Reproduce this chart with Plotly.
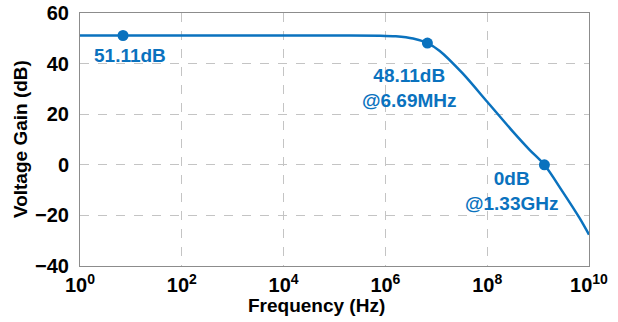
import plotly.graph_objects as go

# Open-loop voltage gain of the amplifier
freq_hz = [1, 1e5, 8e5, 1.6e6, 3.5e6, 6.69e6, 1.17e7, 3.3e7, 1e8, 3.2e8, 6.8e8, 1.33e9, 3.0e9, 6.5e9, 1e10]
gain_db = [51.11, 51.11, 51.05, 50.8, 49.9, 48.11, 45.0, 36.1, 24.9, 13.1, 5.9, 0.0, -10.5, -21.0, -27.6]

# Highlighted operating points: DC gain, -3 dB corner, unity-gain crossing
mark_freq = [7, 6.69e6, 1.33e9]
mark_gain = [51.11, 48.11, 0.0]
mark_text = ["51.11dB", "48.11dB<br>@6.69MHz", "0dB<br>@1.33GHz"]

x_tick_vals = [1, 1e2, 1e4, 1e6, 1e8, 1e10]
x_tick_text = ["10<sup>0</sup>", "10<sup>2</sup>", "10<sup>4</sup>",
               "10<sup>6</sup>", "10<sup>8</sup>", "10<sup>10</sup>"]
y_tick_vals = [-40, -20, 0, 20, 40, 60]

BLUE = "#0A72BE"
FONT = "Liberation Sans, Arial, sans-serif"

fig = go.Figure()
fig.add_trace(go.Scatter(
    x=freq_hz, y=gain_db, mode="lines",
    line=dict(color=BLUE, width=2.5, shape="spline", smoothing=0.8),
    hoverinfo="skip", showlegend=False,
))
fig.add_trace(go.Scatter(
    x=mark_freq, y=mark_gain, mode="markers",
    marker=dict(color=BLUE, size=11),
    showlegend=False,
))

# Text callouts for the highlighted points (x in log10 units)
label_pos = [
    (0.226, 43.3, "left"),
    (6.48, 30.2, "center"),
    (8.48, -10.5, "center"),
]
for (lx, ly, anchor), txt in zip(label_pos, mark_text):
    fig.add_annotation(
        x=lx, y=ly, xref="x", yref="y", text=txt, showarrow=False,
        xanchor=anchor, yanchor="middle", align="center",
        font=dict(family=FONT, size=19, color=BLUE, weight="bold"),
    )

# Axis titles
fig.add_annotation(
    x=-0.1167, y=0.5, xref="paper", yref="paper", text="Voltage Gain (dB)",
    textangle=-90, showarrow=False, xanchor="center", yanchor="middle",
    font=dict(family=FONT, size=19, color="black", weight="bold"),
)
fig.add_annotation(
    x=0.465, y=-0.158, xref="paper", yref="paper", text="Frequency (Hz)",
    showarrow=False, xanchor="center", yanchor="middle",
    font=dict(family=FONT, size=19, color="black", weight="bold"),
)

axis_common = dict(
    showline=True, linecolor="#8C8C8C", linewidth=1, mirror=True,
    showgrid=True, gridcolor="#C4C4C4", gridwidth=1, griddash="dash",
    zeroline=False, ticks="", automargin=False,
    tickfont=dict(family=FONT, size=20, color="black", weight="bold"),
)

fig.update_xaxes(type="log", range=[0, 10], tickvals=x_tick_vals,
                 ticktext=x_tick_text, ticklabelstandoff=1, **axis_common)
fig.update_yaxes(range=[-40, 60], tickvals=y_tick_vals,
                 ticklabelstandoff=6, **axis_common)

fig.update_layout(
    width=618, height=322,
    margin=dict(l=79.5, r=28.7, t=12.7, b=56),
    paper_bgcolor="white", plot_bgcolor="white",
)

fig.write_html("out.html")
